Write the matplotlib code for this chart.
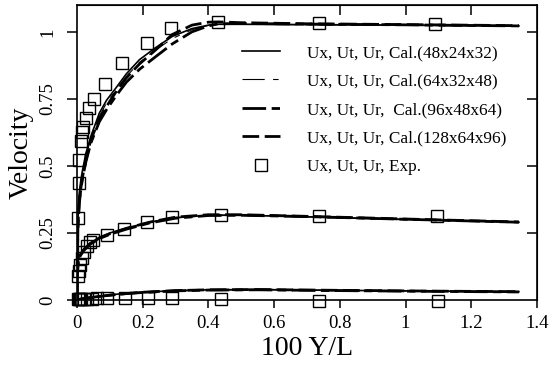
import matplotlib
matplotlib.use("Agg")
import matplotlib.pyplot as plt
from matplotlib.lines import Line2D

plt.rcParams['font.family'] = ['Liberation Serif', 'DejaVu Serif']
plt.rcParams['lines.scale_dashes'] = False

# ---- calculated profiles (four grid resolutions x three components) ----
grids = ["48x24x32", "64x32x48", "96x48x64", "128x64x96"]
legend_labels = ["Ux, Ut, Ur, Cal.(48x24x32)",
                 "Ux, Ut, Ur, Cal.(64x32x48)",
                 "Ux, Ut, Ur,  Cal.(96x48x64)",
                 "Ux, Ut, Ur, Cal.(128x64x96)",
                 "Ux, Ut, Ur, Exp."]

ux_x = [0, 0.001, 0.003, 0.007, 0.012, 0.017, 0.027, 0.042, 0.068, 0.09, 0.118,
        0.15, 0.19, 0.237, 0.29, 0.35, 0.40, 0.43, 0.5, 0.7, 1.0, 1.345]
ux_48 = [0, 0.16, 0.30, 0.40, 0.45, 0.485, 0.547, 0.61, 0.697, 0.745, 0.790,
         0.843, 0.896, 0.939, 0.983, 1.012, 1.025, 1.028, 1.028, 1.027, 1.025, 1.022]
ux_64 = [0, 0.15, 0.29, 0.39, 0.44, 0.475, 0.535, 0.60, 0.685, 0.735, 0.782,
         0.833, 0.886, 0.930, 0.975, 1.008, 1.024, 1.028, 1.028, 1.026, 1.024, 1.021]
ux_96 = [0, 0.14, 0.27, 0.36, 0.415, 0.455, 0.515, 0.585, 0.665, 0.71, 0.76,
         0.812, 0.86, 0.905, 0.955, 1.0, 1.022, 1.03, 1.031, 1.029, 1.026, 1.022]
ux_128 = [0, 0.14, 0.28, 0.37, 0.42, 0.46, 0.522, 0.597, 0.675, 0.722, 0.775,
          0.828, 0.88, 0.93, 0.99, 1.025, 1.036, 1.037, 1.034, 1.03, 1.027, 1.023]

ut_x = [0, 0.0005, 0.0015, 0.003, 0.006, 0.01, 0.02, 0.04, 0.07, 0.1, 0.15,
        0.22, 0.3, 0.4, 0.5, 0.7, 1.0, 1.345]
ut_48 = [0, 0.06, 0.11, 0.14, 0.16, 0.172, 0.19, 0.213, 0.235, 0.25, 0.268,
         0.29, 0.307, 0.316, 0.316, 0.31, 0.30, 0.29]
ut_64 = [0, 0.055, 0.105, 0.135, 0.155, 0.168, 0.186, 0.21, 0.232, 0.247, 0.266,
         0.288, 0.306, 0.316, 0.317, 0.311, 0.301, 0.291]
ut_96 = [0, 0.05, 0.10, 0.13, 0.152, 0.165, 0.184, 0.208, 0.23, 0.245, 0.264,
         0.287, 0.305, 0.315, 0.316, 0.311, 0.301, 0.29]
ut_128 = [0, 0.05, 0.10, 0.132, 0.154, 0.167, 0.186, 0.21, 0.232, 0.247, 0.267,
          0.29, 0.309, 0.318, 0.318, 0.312, 0.302, 0.291]

ur_x = [0, 0.01, 0.03, 0.06, 0.1, 0.15, 0.2, 0.3, 0.4, 0.55, 0.8, 1.1, 1.345]
ur_48 = [0, 0.004, 0.008, 0.013, 0.019, 0.025, 0.029, 0.035, 0.038, 0.039, 0.036, 0.033, 0.031]
ur_64 = [0, 0.004, 0.008, 0.012, 0.018, 0.024, 0.028, 0.034, 0.037, 0.038, 0.036, 0.033, 0.031]
ur_96 = [0, 0.003, 0.007, 0.012, 0.018, 0.024, 0.028, 0.034, 0.037, 0.038, 0.035, 0.032, 0.030]
ur_128 = [0, 0.003, 0.007, 0.012, 0.018, 0.024, 0.029, 0.035, 0.038, 0.039, 0.036, 0.033, 0.031]

# ---- experimental data ----
exp_ux_x = [0.002, 0.006, 0.007, 0.012, 0.015, 0.019, 0.027, 0.037, 0.052,
            0.086, 0.138, 0.213, 0.287, 0.43, 0.735, 1.09]
exp_ux_y = [0.305, 0.435, 0.522, 0.594, 0.628, 0.644, 0.678, 0.715, 0.75,
            0.806, 0.883, 0.96, 1.014, 1.036, 1.032, 1.03]
exp_ut_x = [0.004, 0.007, 0.009, 0.014, 0.022, 0.029, 0.04, 0.05, 0.09,
            0.143, 0.214, 0.29, 0.438, 0.735, 1.095]
exp_ut_y = [0.09, 0.11, 0.13, 0.155, 0.18, 0.2, 0.215, 0.225, 0.243,
            0.264, 0.291, 0.311, 0.317, 0.315, 0.312]
exp_ur_x = [0.002, 0.005, 0.008, 0.012, 0.02, 0.03, 0.045, 0.06, 0.09,
            0.145, 0.216, 0.29, 0.438, 0.735, 1.10]
exp_ur_y = [0.002, 0.003, 0.004, 0.004, 0.005, 0.005, 0.005, 0.006, 0.006,
            0.006, 0.006, 0.006, 0.004, -0.003, -0.003]

styles = {
    "48x24x32": dict(linestyle="-", linewidth=1.2),
    "64x32x48": dict(linestyle=(0, (16, 6, 4, 6)), linewidth=0.8),
    "96x48x64": dict(linestyle=(0, (17, 4, 6, 4)), linewidth=2.0),
    "128x64x96": dict(linestyle=(0, (12, 4)), linewidth=2.0),
}
profiles = {
    "48x24x32": (ux_48, ut_48, ur_48),
    "64x32x48": (ux_64, ut_64, ur_64),
    "96x48x64": (ux_96, ut_96, ur_96),
    "128x64x96": (ux_128, ut_128, ur_128),
}

fig = plt.figure(figsize=(5.55, 3.72), dpi=100)
ax = fig.add_axes([77 / 555, 1 - 300 / 372, 460 / 555, 295 / 372])

handles = []
for g in grids:
    ux, ut, ur = profiles[g]
    st = styles[g]
    ax.plot(ux_x, ux, color="black", **st)
    ax.plot(ut_x, ut, color="black", **st)
    ax.plot(ur_x, ur, color="black", **st)
    handles.append(Line2D([], [], color="black", **st))

mk = dict(marker="s", linestyle="none", markersize=9, markerfacecolor="none",
          markeredgecolor="black", markeredgewidth=1.0, clip_on=False)
ax.plot(exp_ux_x, exp_ux_y, **mk)
ax.plot(exp_ut_x, exp_ut_y, **mk)
ax.plot(exp_ur_x, exp_ur_y, **mk)
handles.append(Line2D([], [], marker="s", linestyle="none", markersize=8,
                      markerfacecolor="none", markeredgecolor="black",
                      markeredgewidth=1.0))

ax.set_xlim(0, 1.4)
ax.set_ylim(0, 1.1)
ax.set_xticks([0, 0.2, 0.4, 0.6, 0.8, 1.0, 1.2, 1.4])
ax.set_xticklabels(["0", "0.2", "0.4", "0.6", "0.8", "1", "1.2", "1.4"])
ax.set_yticks([0, 0.25, 0.5, 0.75, 1.0])
ax.set_yticklabels(["0", "0.25", "0.5", "0.75", "1"])

for s in ax.spines.values():
    s.set_linewidth(1.2)

ax.tick_params(axis="both", which="both", labelsize=13.5, width=1.1)
ax.tick_params(axis="x", bottom=True, top=False, direction="out", length=6, pad=5)
ax.tick_params(axis="y", left=True, right=False, direction="out", length=7, pad=8)
for lab in ax.get_yticklabels():
    lab.set_rotation(90)
    lab.set_va("center")
    lab.set_ha("right")

# inward ticks on the top and right sides
sec_x = ax.secondary_xaxis("top")
sec_x.set_xticks([0.2, 0.4, 0.6, 0.8, 1.0, 1.2])
sec_x.tick_params(direction="in", length=7, width=1.1, labeltop=False)
sec_y = ax.secondary_yaxis("right")
sec_y.set_yticks([0.25, 0.5, 0.75, 1.0])
sec_y.tick_params(direction="in", length=7, width=1.1, labelright=False)

ax.set_xlabel("100 Y/L", fontsize=20, labelpad=3)
ax.set_ylabel("Velocity", fontsize=20, labelpad=4)

ax.legend(handles, legend_labels, loc="upper left",
          bbox_to_anchor=((242 - 77) / 460, (300 - 45) / 295),
          frameon=False, fontsize=12.4, handlelength=2.2, handletextpad=1.6,
          labelspacing=0.72, borderpad=0, borderaxespad=0)

fig.savefig("out.png", dpi=100)
